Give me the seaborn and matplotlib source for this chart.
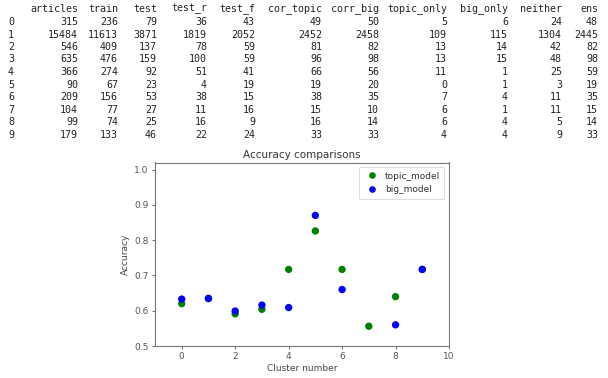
import numpy as np
import pandas as pd
import matplotlib.pyplot as plt
import seaborn as sns

sns.set_style('white')
plt.rcParams['font.family'] = ['DejaVu Sans']

# --- table data ---
columns = ['articles', 'train', 'test', 'test_r', 'test_f', 'cor_topic',
           'corr_big', 'topic_only', 'big_only', 'neither', 'ens']
articles = [315, 15484, 546, 635, 366, 90, 209, 104, 99, 179]
train = [236, 11613, 409, 476, 274, 67, 156, 77, 74, 133]
test = [79, 3871, 137, 159, 92, 23, 53, 27, 25, 46]
test_r = [36, 1819, 78, 100, 51, 4, 38, 11, 16, 22]
test_f = [43, 2052, 59, 59, 41, 19, 15, 16, 9, 24]
cor_topic = [49, 2452, 81, 96, 66, 19, 38, 15, 16, 33]
corr_big = [50, 2458, 82, 98, 56, 20, 35, 10, 14, 33]
topic_only = [5, 109, 13, 13, 11, 0, 7, 6, 6, 4]
big_only = [6, 115, 14, 15, 1, 1, 4, 1, 4, 4]
neither = [24, 1304, 42, 48, 25, 3, 11, 11, 5, 9]
ens = [48, 2445, 82, 98, 59, 19, 35, 15, 14, 33]

# --- chart data ---
clusters = list(range(10))
topic_acc = [0.620, 0.634, 0.591, 0.604, 0.717, 0.826, 0.717, 0.556, 0.640, 0.717]
big_acc = [0.633, 0.635, 0.599, 0.616, 0.609, 0.870, 0.660, 0.370, 0.560, 0.717]

table = pd.DataFrame(dict(zip(columns, [articles, train, test, test_r, test_f, cor_topic,
                                         corr_big, topic_only, big_only, neither, ens])))

W, H = 608, 378
fig = plt.figure(figsize=(W / 100, H / 100), dpi=100)

# table printed as monospace text (pandas-style)
col_right = [78, 118, 157, 207, 255, 322, 379, 447, 508, 562, 598]
y_head, y_row0, dy = 9, 22, 12.5
mono = dict(family='DejaVu Sans Mono', fontsize=7.2, color='#222222')
for c, xr in zip(columns, col_right):
    fig.text(xr / W, 1 - y_head / H, c, ha='right', va='center', **mono)
    for i, v in enumerate(table[c]):
        fig.text(xr / W, 1 - (y_row0 + i * dy) / H, str(v), ha='right', va='center', **mono)
for i in table.index:
    fig.text(8 / W, 1 - (y_row0 + i * dy) / H, str(i), ha='left', va='center', **mono)

# scatter chart
ax = fig.add_axes([155 / W, 1 - 346 / H, 294 / W, 183.5 / H])
long = pd.DataFrame({
    'cluster': clusters * 2,
    'accuracy': topic_acc + big_acc,
    'model': ['topic_model'] * 10 + ['big_model'] * 10,
})
sns.scatterplot(data=long, x='cluster', y='accuracy', hue='model',
                palette={'topic_model': 'green', 'big_model': 'blue'},
                s=28, linewidth=0, ax=ax)
ax.set_xlim(-1, 10)
ax.set_ylim(0.5, 1.02)
ax.set_xticks([0, 2, 4, 6, 8, 10])
ax.set_yticks([0.5, 0.6, 0.7, 0.8, 0.9, 1.0])
ax.set_title('Accuracy comparisons', fontsize=7.5, color='#333333', pad=3)
ax.set_xlabel('Cluster number', fontsize=6.5, color='#444444', labelpad=2)
ax.set_ylabel('Accuracy', fontsize=6.5, color='#444444', labelpad=3)
ax.tick_params(labelsize=6.5, colors='#555555', length=2.5, width=0.6,
               bottom=True, left=True, pad=2)
for sp in ax.spines.values():
    sp.set_color('#777777')
    sp.set_linewidth(0.8)

leg = ax.legend(loc='upper right', fontsize=6.5, frameon=True, handletextpad=0.4,
                borderpad=0.5, markerscale=0.9)
leg.get_frame().set_edgecolor('#cccccc')
leg.get_frame().set_linewidth(0.6)
for t in leg.get_texts():
    t.set_color('#333333')

fig.savefig('out.png', dpi=100)
